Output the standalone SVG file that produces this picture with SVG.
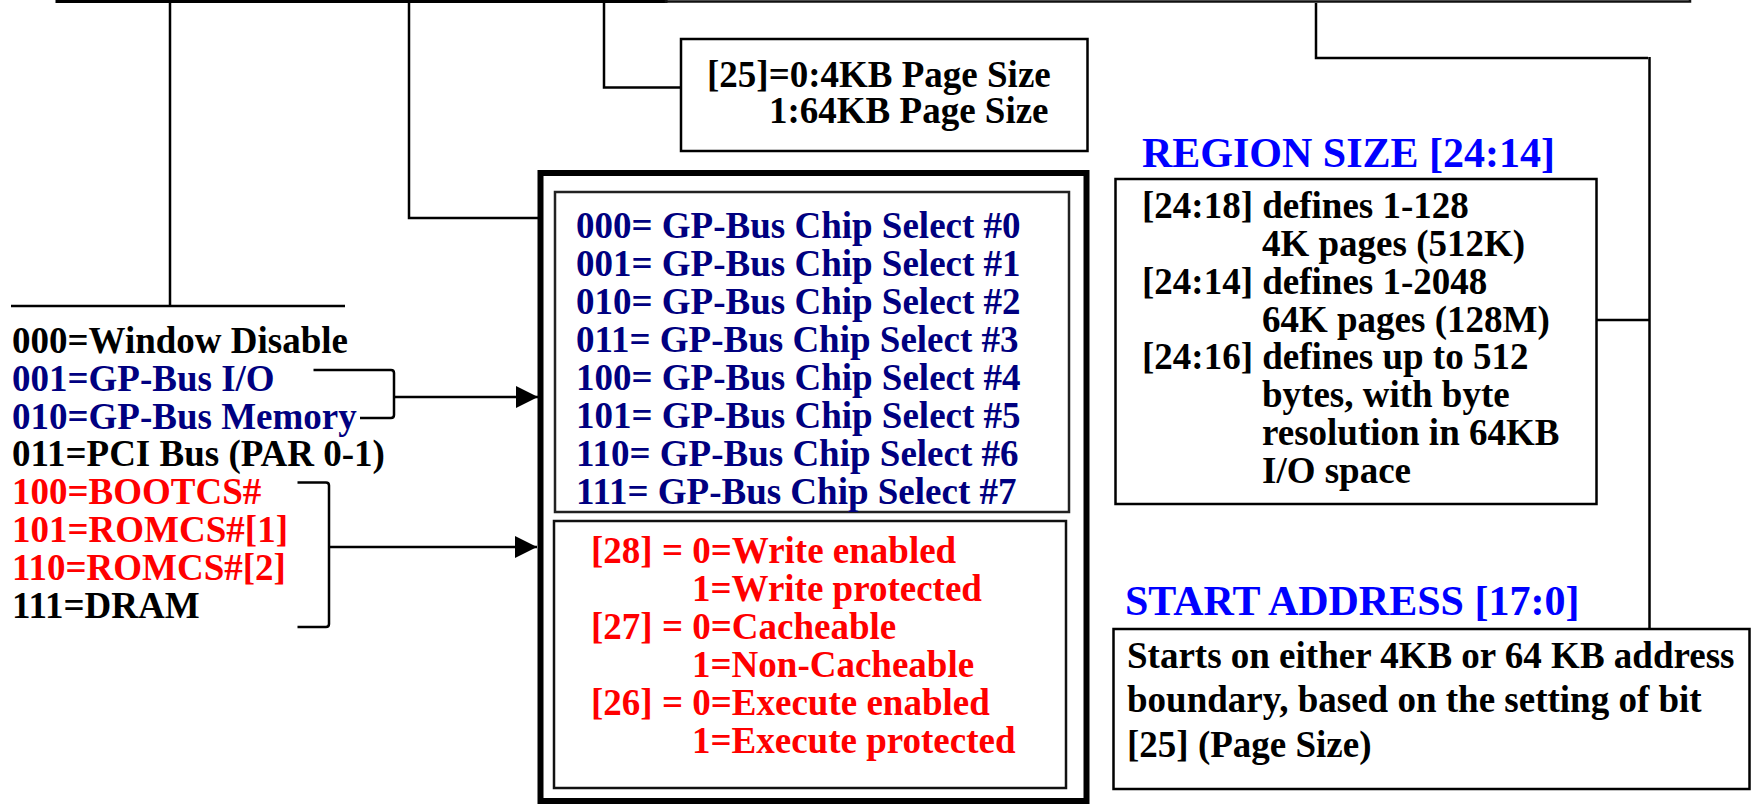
<svg xmlns="http://www.w3.org/2000/svg" width="1752" height="804" viewBox="0 0 1752 804">
<style>
  text { font-family: "Liberation Serif", "Times New Roman", serif; font-weight: bold; font-size: 37px; }
  .blk { fill: #000000; }
  .nav { fill: #000080; }
  .red { fill: #FF0000; }
  .title { fill: #0000FF; font-size: 42px; }
  .box { fill: #FFFFFF; stroke: #000000; stroke-width: 2.5; }
  .conn { fill: none; stroke: #000000; stroke-width: 2.5; }
</style>
<defs>
  <marker id="arrow" viewBox="0 0 22 22" refX="22" refY="11" markerWidth="22" markerHeight="22" markerUnits="userSpaceOnUse" orient="auto">
    <path d="M0,0 L22,11 L0,22 Z" fill="#000000"/>
  </marker>
</defs>
<rect width="1752" height="804" fill="#FFFFFF"/>

<g id="top-register">
  <rect x="57" y="-30" width="240" height="31.5" fill="none" stroke="#000" stroke-width="3"/>
  <rect x="297" y="-30" width="240" height="31.5" fill="none" stroke="#000" stroke-width="3"/>
  <rect x="537" y="-30" width="129" height="31.5" fill="none" stroke="#000" stroke-width="3"/>
  <rect x="666" y="-30" width="1024" height="31.5" fill="none" stroke="#111" stroke-width="2.5"/>
</g>

<g id="connectors">
  <path class="conn" d="M170,2 V306 M11,306 H345"/>
  <path class="conn" d="M409,2 V218 H540"/>
  <path class="conn" d="M604,2 V87.5 H681"/>
  <path class="conn" d="M1316,3 V58 H1648"/>
  <path class="conn" d="M1649.5,57 V629"/>
  <path class="conn" d="M1596,320 H1649"/>
  <path class="conn" d="M313.5,370 H391 Q394,370 394,373 V415 Q394,418 391,418 H360"/>
  <path class="conn" d="M394,397 H538" marker-end="url(#arrow)"/>
  <path class="conn" d="M297.5,482.5 H326 Q329,482.5 329,485.5 V624 Q329,627 326,627 H297.5"/>
  <path class="conn" d="M329,547 H537" marker-end="url(#arrow)"/>
</g>

<g id="window-type-list">
  <text x="12" y="353" class="blk">000=Window Disable</text>
  <text x="12" y="391" class="nav">001=GP-Bus I/O</text>
  <text x="12" y="429" class="nav">010=GP-Bus Memory</text>
  <text x="12" y="466" class="blk">011=PCI Bus (PAR 0-1)</text>
  <text x="12" y="504" class="red">100=BOOTCS#</text>
  <text x="12" y="542" class="red">101=ROMCS#[1]</text>
  <text x="12" y="580" class="red">110=ROMCS#[2]</text>
  <text x="12" y="618" class="blk">111=DRAM</text>
</g>

<g id="page-size-box">
  <rect class="box" x="681" y="39" width="406.5" height="112"/>
  <text x="707" y="87" class="blk">[25]=0:4KB Page Size</text>
  <text x="769" y="123" class="blk">1:64KB Page Size</text>
</g>

<g id="attribute-box">
  <rect x="540.5" y="173" width="546" height="628" fill="#FFFFFF" stroke="#000" stroke-width="6"/>
</g>

<g id="chip-select-box">
  <rect x="555" y="192" width="514" height="320" fill="#FFFFFF" stroke="#222" stroke-width="2.5"/>
  <text x="576" y="238" class="nav">000= GP-Bus Chip Select #0</text>
  <text x="576" y="276" class="nav">001= GP-Bus Chip Select #1</text>
  <text x="576" y="314" class="nav">010= GP-Bus Chip Select #2</text>
  <text x="576" y="352" class="nav">011= GP-Bus Chip Select #3</text>
  <text x="576" y="390" class="nav">100= GP-Bus Chip Select #4</text>
  <text x="576" y="428" class="nav">101= GP-Bus Chip Select #5</text>
  <text x="576" y="466" class="nav">110= GP-Bus Chip Select #6</text>
  <text x="576" y="504" class="nav">111= GP-Bus Chip Select #7</text>
</g>

<g id="protection-box">
  <rect x="554" y="521" width="512" height="267" fill="#FFFFFF" stroke="#111" stroke-width="2.5"/>
  <text x="591" y="563" class="red">[28] = 0=Write enabled</text>
  <text x="692" y="601" class="red">1=Write protected</text>
  <text x="591" y="639" class="red">[27] = 0=Cacheable</text>
  <text x="692" y="677" class="red">1=Non-Cacheable</text>
  <text x="591" y="715" class="red">[26] = 0=Execute enabled</text>
  <text x="692" y="753" class="red">1=Execute protected</text>
</g>

<g id="region-size">
  <text x="1142" y="167" class="title">REGION SIZE [24:14]</text>
  <rect class="box" x="1115.5" y="179" width="481" height="325"/>
  <text x="1142" y="218" class="blk">[24:18] defines 1-128</text>
  <text x="1262" y="256" class="blk">4K pages (512K)</text>
  <text x="1142" y="294" class="blk">[24:14] defines 1-2048</text>
  <text x="1262" y="332" class="blk">64K pages (128M)</text>
  <text x="1142" y="369" class="blk">[24:16] defines up to 512</text>
  <text x="1262" y="407" class="blk">bytes, with byte</text>
  <text x="1262" y="445" class="blk">resolution in 64KB</text>
  <text x="1262" y="483" class="blk">I/O space</text>
</g>

<g id="start-address">
  <text x="1125" y="615" class="title">START ADDRESS [17:0]</text>
  <rect class="box" x="1113.5" y="629" width="636" height="160"/>
  <text x="1127" y="668" class="blk">Starts on either 4KB or 64 KB address</text>
  <text x="1127" y="712" class="blk">boundary, based on the setting of bit</text>
  <text x="1127" y="757" class="blk">[25] (Page Size)</text>
</g>
</svg>
